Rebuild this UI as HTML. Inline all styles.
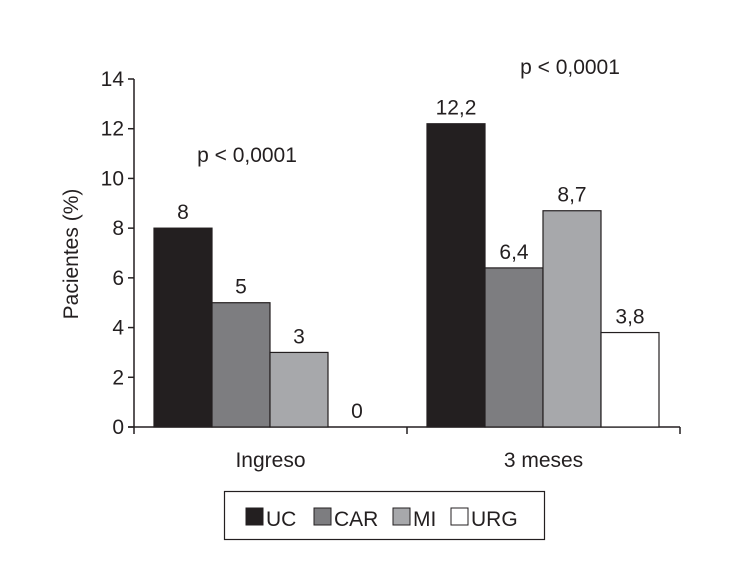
<!DOCTYPE html>
<html><head><meta charset="utf-8"><style>
body{margin:0;background:#fff}
svg text{font-family:"Liberation Sans Narrow","Liberation Sans",sans-serif;fill:#231f20}
</style></head><body>
<svg width="730" height="581" viewBox="0 0 730 581">
<g id="yaxis"></g>
<g id="bars"></g>
<text x="0" y="0" transform="translate(78,254) rotate(-90)" text-anchor="middle" font-size="21">Pacientes (%)</text>
<text x="247" y="162" text-anchor="middle" font-size="21">p &lt; 0,0001</text>
<text x="570" y="74" text-anchor="middle" font-size="21">p &lt; 0,0001</text>
<g>
<rect x="224.5" y="491.5" width="320" height="48" fill="none" stroke="#231f20" stroke-width="1.2"/>
<rect x="246" y="508" width="17" height="17" fill="#231f20" stroke="#231f20"/>
<text x="266" y="526" font-size="21">UC</text>
<rect x="314" y="508" width="17" height="17" fill="#7d7d80" stroke="#231f20"/>
<text x="334" y="526" font-size="21">CAR</text>
<rect x="393" y="508" width="17" height="17" fill="#a7a8ab" stroke="#231f20"/>
<text x="413" y="526" font-size="21">MI</text>
<rect x="451" y="508" width="17" height="17" fill="#fff" stroke="#231f20"/>
<text x="471" y="526" font-size="21">URG</text>
</g>
</svg>
<script>
const categories=["Ingreso","3 meses"];
const uc=[8,12.2];
const car=[5,6.4];
const mi=[3,8.7];
const urg=[0,3.8];
const valueLabels=[["8","5","3","0"],["12,2","6,4","8,7","3,8"]];
const yTicks=[0,2,4,6,8,10,12,14];
const NS="http://www.w3.org/2000/svg";
const x0=134,x1=680,y0=427,yTop=79,yMax=14;
const y=v=>y0-(v/yMax)*(y0-yTop);
const groupW=(x1-x0)/categories.length;
const barW=58,groupPad=20;
const colors=["#231f20","#7d7d80","#a7a8ab","#ffffff"];
const series=[uc,car,mi,urg];
function mk(t,a,p){const e=document.createElementNS(NS,t);for(const k in a)e.setAttribute(k,a[k]);p.appendChild(e);return e;}
const ya=document.getElementById('yaxis'),bg=document.getElementById('bars');
yTicks.forEach(t=>{
 const l=mk('line',{x1:x0-6,x2:x0,y1:y(t),y2:y(t),stroke:'#231f20','stroke-width':1.5},ya);
 
 
 const tx=mk('text',{x:x0-10,y:y(t)+7,'text-anchor':'end','font-size':21},ya);
 tx.textContent=t;
 
 
});
categories.forEach((c,i)=>{
 const gx=x0+i*groupW+groupPad;
 series.forEach((s,j)=>{
  const bx=gx+j*barW;
  if(s[i]>0){
   const r=mk('rect',{x:bx,y:y(s[i]),width:barW,height:y0-y(s[i]),fill:colors[j],stroke:'#231f20','stroke-width':1.2},bg);
   
   
  }
  const tl=mk('text',{x:bx+barW/2,y:(s[i]>0?y(s[i]):y0)-9,'text-anchor':'middle','font-size':21},bg);
  tl.textContent=valueLabels[i][j];
  
  
 });
 const cl=mk('text',{x:x0+i*groupW+groupW/2,y:467,'text-anchor':'middle','font-size':21},bg);
 cl.textContent=c;
 
 
 const tk=mk('line',{x1:x0+(i+1)*groupW,x2:x0+(i+1)*groupW,y1:y0,y2:y0+7,stroke:'#231f20','stroke-width':1.5},bg);
 
 
});
const ax=mk('line',{x1:x0,x2:x0,y1:yTop,y2:y0+7,stroke:'#231f20','stroke-width':1.5},ya);


const xa=mk('line',{x1:x0-6,x2:x1,y1:y0,y2:y0,stroke:'#231f20','stroke-width':1.5},ya);


</script>
</body></html>
